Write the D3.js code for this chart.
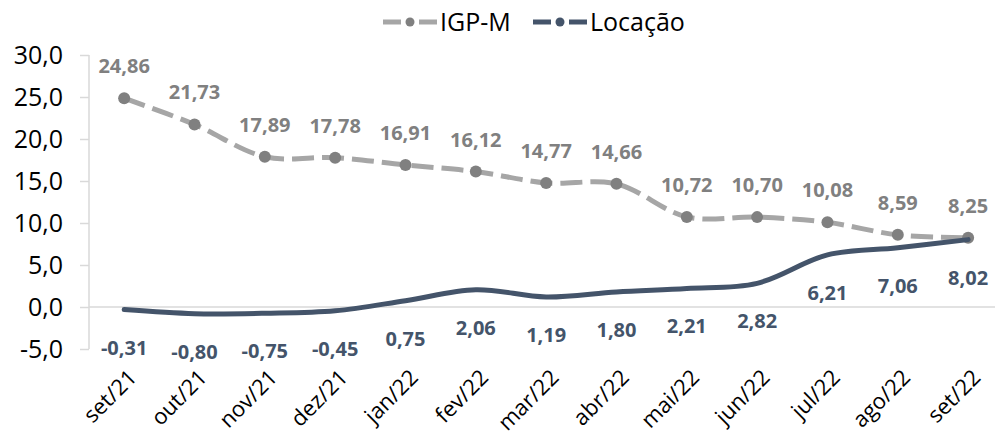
<!DOCTYPE html>
<html>
<head>
<meta charset="utf-8">
<script src="https://cdn.jsdelivr.net/npm/d3@7"></script>
<style>
  body { margin: 0; background: #fff; }
  text { font-family: "Open Sans", "Liberation Sans", sans-serif; }
</style>
</head>
<body>
<script>
// chart data
const months = ['set/21', 'out/21', 'nov/21', 'dez/21', 'jan/22', 'fev/22', 'mar/22',
                'abr/22', 'mai/22', 'jun/22', 'jul/22', 'ago/22', 'set/22'];
const igpm = [24.86, 21.73, 17.89, 17.78, 16.91, 16.12, 14.77, 14.66, 10.72, 10.70, 10.08, 8.59, 8.25];
const locacao = [-0.31, -0.80, -0.75, -0.45, 0.75, 2.06, 1.19, 1.80, 2.21, 2.82, 6.21, 7.06, 8.02];
const yTicks = [-5, 0, 5, 10, 15, 20, 25, 30];

const width = 995, height = 437;
const margin = { top: 55, left: 89, bottom: 88 };

const svg = d3.select('body').append('svg')
    .attr('width', width)
    .attr('height', height);

const fmt = (d, n) => d.toFixed(n).replace('.', ',');

// scales
const x = d3.scaleBand()
    .domain(months)
    .range([margin.left, margin.left + 13 * 70.33]);

const y = d3.scaleLinear()
    .domain([-5, 30])
    .range([height - margin.bottom, margin.top]);

const cx = d => x(d) + x.bandwidth() / 2;

// y axis
const yAxis = svg.append('g')
    .attr('transform', `translate(${margin.left},0)`)
    .call(d3.axisLeft(y).tickValues(yTicks).tickSize(9).tickPadding(17).tickFormat(d => fmt(d, 1)));
yAxis.selectAll('line, path').attr('stroke', '#d9d9d9').attr('stroke-width', 1.5);
yAxis.select('.domain').attr('d', `M0,${y(30)}V${y(-5)}`);
yAxis.selectAll('text')
    .attr('font-size', 25)
    .attr('fill', '#000')
    .style('font-family', '"Open Sans", sans-serif');

// zero line
svg.append('line')
    .attr('x1', margin.left).attr('x2', width)
    .attr('y1', y(0)).attr('y2', y(0))
    .attr('stroke', '#d9d9d9').attr('stroke-width', 1.5);

// x labels
svg.selectAll('.xlab')
    .data(months)
    .enter().append('text')
    .attr('class', 'xlab')
    .attr('text-anchor', 'end')
    .attr('font-size', 22)
    .attr('fill', '#000')
    .attr('transform', d => `translate(${cx(d) + 3},${y(-5) + 19}) rotate(-45)`)
    .attr('dy', '0.7em')
    .text(d => d);

const line = d3.line()
    .x((d, i) => cx(months[i]))
    .y(d => y(d))
    .curve(d3.curveCatmullRom.alpha(0.5));

// IGP-M
svg.append('path')
    .datum(igpm)
    .attr('d', line)
    .attr('fill', 'none')
    .attr('stroke', '#a6a6a6')
    .attr('stroke-width', 5)
    .attr('stroke-dasharray', '22,8');

svg.selectAll('.dot')
    .data(igpm)
    .enter().append('circle')
    .attr('cx', (d, i) => cx(months[i]))
    .attr('cy', d => y(d))
    .attr('r', 6)
    .attr('fill', '#808080');

svg.selectAll('.lab1')
    .data(igpm)
    .enter().append('text')
    .attr('x', (d, i) => cx(months[i]))
    .attr('y', d => y(d) - 32)
    .attr('dy', '0.35em')
    .attr('text-anchor', 'middle')
    .attr('font-size', 20)
    .attr('font-weight', 'bold')
    .attr('fill', '#808080')
    .text(d => fmt(d, 2));

// Locação
svg.append('path')
    .datum(locacao)
    .attr('d', line)
    .attr('fill', 'none')
    .attr('stroke', '#44546a')
    .attr('stroke-width', 5)
    .attr('stroke-linecap', 'round');

svg.selectAll('.lab2')
    .data(locacao)
    .enter().append('text')
    .attr('x', (d, i) => cx(months[i]))
    .attr('y', d => y(d) + 38)
    .attr('dy', '0.35em')
    .attr('text-anchor', 'middle')
    .attr('font-size', 20)
    .attr('font-weight', 'bold')
    .attr('fill', '#44546a')
    .text(d => fmt(d, 2));

// legend
const legend = [
  { name: 'IGP-M', color: '#a6a6a6', dot: '#808080', x: 383 },
  { name: 'Locação', color: '#44546a', dot: '#44546a', x: 533 }
];
const lg = svg.selectAll('.leg')
    .data(legend)
    .enter().append('g')
    .attr('transform', d => `translate(${d.x},22)`);
lg.append('line').attr('x1', 0).attr('x2', 18).attr('stroke', d => d.color).attr('stroke-width', 5);
lg.append('line').attr('x1', 36).attr('x2', 54).attr('stroke', d => d.color).attr('stroke-width', 5);
lg.append('circle').attr('cx', 27).attr('r', 4.5).attr('fill', d => d.dot);
lg.append('text')
    .attr('x', 57)
    .attr('dy', '0.35em')
    .attr('font-size', 25)
    .attr('fill', '#000')
    .text(d => d.name);
</script>
</body>
</html>
